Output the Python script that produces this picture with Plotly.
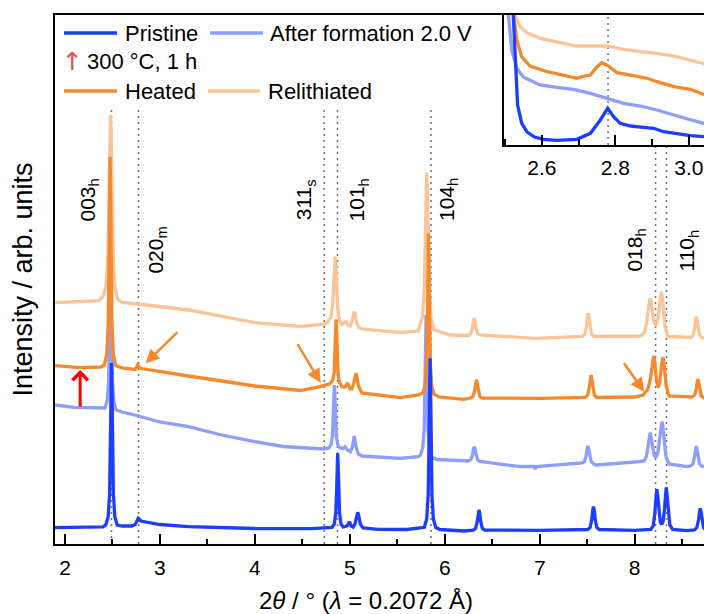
import plotly.graph_objects as go

FONT = "Arial, 'Liberation Sans', sans-serif"

# ---------------- main pattern data (2theta in deg, intensity in arb. units incl. offsets) -------------
pristine_x = [1.895, 2.20, 2.40, 2.43, 2.455, 2.47, 2.479, 2.485, 2.49, 2.495, 2.501, 2.51, 2.525, 2.55,
              2.60, 2.70, 2.74, 2.772, 2.80, 2.85, 2.90, 3.00, 3.30, 4.00, 4.60, 4.812, 4.837, 4.852, 4.861,
              4.867, 4.872, 4.877, 4.883, 4.892, 4.907, 4.93, 4.955, 4.975, 4.987, 4.995, 5.003, 5.015, 5.035,
              5.055, 5.068, 5.076, 5.083, 5.09, 5.098, 5.112, 5.14, 5.30, 5.60, 5.785, 5.81, 5.825, 5.834,
              5.84, 5.845, 5.85, 5.856, 5.865, 5.88, 5.905, 5.95, 6.20, 6.30, 6.325, 6.342, 6.352, 6.36,
              6.368, 6.378, 6.395, 6.42, 7.00, 7.506, 7.531, 7.548, 7.558, 7.566, 7.574, 7.584, 7.601, 7.626,
              8.00, 8.17, 8.195, 8.214, 8.225, 8.234, 8.243, 8.254, 8.27, 8.285, 8.30, 8.314, 8.324, 8.332,
              8.34, 8.351, 8.37, 8.40, 8.55, 8.63, 8.655, 8.672, 8.682, 8.69, 8.698, 8.708, 8.725, 8.75]
pristine_y = [16.3, 16.8, 17.2, 19.1, 27.3, 50.2, 99.3, 156.5, 181, 156.5, 99.3, 50.2, 27.3, 19,
              18, 18, 19.5, 25.7, 23, 22, 21.5, 19.5, 17.3, 15.5, 15.4, 16.5, 20.2, 30.7, 53.2,
              79.5, 90.7, 79.5, 53.2, 30.7, 20.2, 17, 17.5, 18.5, 20.8, 22.3, 20.8, 18, 17,
              20, 26, 30, 31.7, 30, 26, 19.5, 16, 14.7, 14.5, 16.7, 25.2, 49, 100.4,
              160, 185.7, 160, 100.4, 49, 25, 16.5, 14.5, 13, 13.9, 15.8, 22.6, 30.9, 34,
              30.9, 22.6, 15.8, 13.9, 13.7, 14.5, 16.6, 24.4, 33.8, 37.3, 33.8, 24.4, 16.6, 14.5,
              13.7, 14.5, 18, 32, 48, 54.7, 48, 33, 22, 19.5, 23, 35, 50, 56.7,
              50, 35, 19, 14.5, 13.3, 14, 16.5, 24, 32.5, 35.7, 32.5, 24, 16.5, 14]

formation_x = [1.895, 2.10, 2.42, 2.445, 2.46, 2.469, 2.475, 2.48, 2.485, 2.491, 2.50, 2.515, 2.54, 2.60,
               2.775, 3.00, 3.30, 3.65, 4.00, 4.30, 4.48, 4.72, 4.777, 4.802, 4.817, 4.826, 4.832, 4.837,
               4.842, 4.848, 4.857, 4.872, 4.897, 4.93, 4.95, 4.975, 5.005, 5.025, 5.038, 5.046, 5.054, 5.067,
               5.09, 5.13, 5.53, 5.72, 5.743, 5.768, 5.783, 5.792, 5.798, 5.803, 5.808, 5.814, 5.823, 5.838,
               5.863, 5.92, 6.15, 6.25, 6.275, 6.292, 6.302, 6.31, 6.318, 6.328, 6.345, 6.37, 6.80, 6.94,
               6.952, 6.965, 7.20, 7.39, 7.447, 7.472, 7.489, 7.499, 7.507, 7.515, 7.525, 7.542, 7.567, 7.60,
               8.05, 8.10, 8.125, 8.143, 8.155, 8.163, 8.171, 8.183, 8.203, 8.225, 8.245, 8.265, 8.278, 8.287,
               8.296, 8.309, 8.33, 8.36, 8.55, 8.588, 8.613, 8.63, 8.64, 8.648, 8.656, 8.666, 8.683, 8.708,
               8.75]
formation_y = [139, 136.7, 136, 143, 162.5, 204, 253, 274, 253, 204, 162.5, 142, 134, 132,
               128, 122, 117.3, 109, 102.3, 97.5, 96.5, 95, 96.1, 99.3, 108.2, 127.3, 149.5, 159,
               149.5, 127.3, 108.2, 99.3, 96, 95.5, 97.3, 94, 92.3, 96, 104, 108, 104, 97,
               90, 88, 85.7, 87.3, 88.9, 96, 115.9, 158.5, 208, 229, 208, 158.5, 115, 94,
               87, 84.5, 83, 83, 84.3, 89.2, 95.1, 97.3, 95.1, 89.2, 84.2, 82.5, 77.3, 77.5,
               75, 77.5, 79, 80.7, 81, 82.6, 88.4, 95.4, 98, 95.4, 88.4, 82.5, 80, 79,
               82.3, 83, 88, 100, 108.5, 111.3, 108.5, 99, 89, 86.5, 92, 107, 118.5, 122.3,
               118.5, 104, 87, 80, 77.3, 78, 80, 87, 95, 98, 95, 87, 80, 77.8,
               77.3]

heated_x = [1.895, 2.16, 2.38, 2.415, 2.44, 2.455, 2.464, 2.47, 2.475, 2.48, 2.486, 2.495, 2.51, 2.535,
            2.60, 2.70, 2.74, 2.765, 2.79, 3.30, 4.00, 4.48, 4.686, 4.795, 4.82, 4.835, 4.844, 4.85, 4.855,
            4.86, 4.866, 4.875, 4.89, 4.915, 4.95, 4.978, 5.00, 5.02, 5.042, 5.056, 5.065, 5.074, 5.088,
            5.125, 5.53, 5.72, 5.768, 5.793, 5.808, 5.817, 5.823, 5.828, 5.833, 5.839, 5.848, 5.863, 5.888,
            5.94, 6.20, 6.273, 6.298, 6.315, 6.325, 6.333, 6.341, 6.351, 6.368, 6.393, 7.00, 7.48, 7.505,
            7.522, 7.532, 7.54, 7.548, 7.558, 7.575, 7.60, 8.00, 8.09, 8.14, 8.165, 8.182, 8.192, 8.20,
            8.208, 8.218, 8.232, 8.248, 8.264, 8.279, 8.289, 8.297, 8.305, 8.315, 8.332, 8.36, 8.606, 8.631,
            8.648, 8.658, 8.666, 8.674, 8.684, 8.701, 8.75]
heated_y = [178.3, 176.3, 177, 179.1, 189.6, 219, 282, 355.5, 387, 355.5, 282, 219, 189.6, 178.5,
            176, 175, 174.5, 179, 175.7, 168, 158, 153.5, 157.3, 160.5, 164, 171.3, 191.4, 214.7, 224.7,
            214.7, 191.4, 171.3, 162, 157.3, 157, 161, 155.5, 155, 161, 168, 170.7, 168, 159,
            151, 146.3, 149, 151, 158, 180.5, 229.3, 286.3, 310.7, 286.3, 229.3, 180.5, 157.8, 149.6,
            147, 144.7, 146, 147.7, 153.8, 161.2, 164, 161.2, 153.8, 147.7, 146, 145.7, 146.7, 148.8,
            156.4, 165.5, 169, 165.5, 156.4, 148.8, 146.5, 147, 149, 155, 165, 178, 185, 188,
            185, 176, 162, 156.5, 162, 176, 184, 186.7, 184, 175, 158, 148, 147, 149,
            154.5, 162, 164.7, 162, 154.5, 148, 145]

relith_x = [1.895, 2.36, 2.405, 2.435, 2.453, 2.465, 2.473, 2.48, 2.487, 2.495, 2.507, 2.525, 2.555, 2.60,
            2.77, 3.30, 4.00, 4.48, 4.74, 4.77, 4.80, 4.818, 4.83, 4.838, 4.845, 4.852, 4.86, 4.872, 4.89,
            4.915, 4.945, 4.96, 4.985, 5.005, 5.025, 5.039, 5.047, 5.055, 5.07, 5.095, 5.125, 5.53, 5.72,
            5.735, 5.765, 5.783, 5.795, 5.803, 5.81, 5.817, 5.825, 5.837, 5.855, 5.885, 6.055, 6.25, 6.275,
            6.292, 6.302, 6.31, 6.318, 6.328, 6.345, 6.37, 6.95, 7.40, 7.45, 7.475, 7.492, 7.502, 7.51,
            7.518, 7.528, 7.545, 7.57, 8.06, 8.10, 8.125, 8.143, 8.155, 8.163, 8.171, 8.183, 8.203, 8.226,
            8.247, 8.263, 8.273, 8.28, 8.288, 8.30, 8.32, 8.35, 8.59, 8.615, 8.632, 8.642, 8.65, 8.658,
            8.668, 8.685, 8.71, 8.75]
relith_y = [241.3, 243.3, 248.6, 259.8, 289.8, 345.9, 407.6, 429, 407.6, 345.9, 289.8, 258, 245, 241.5,
            240, 234, 221.3, 217.5, 220, 222.5, 226.5, 237.5, 257, 279, 287.3, 279, 257, 236, 224,
            219.5, 221.5, 222.3, 218.5, 218, 223, 230, 232.3, 230, 222, 216.5, 215, 211.3, 213,
            217.7, 227, 252.5, 300, 352, 371.3, 352, 300, 252.5, 226, 214.5, 209, 208.5, 210.6,
            216.2, 223.1, 225.7, 223.1, 216.2, 210.6, 209, 205.7, 207.3, 207.7, 209.8, 217.7, 227.1, 230.7,
            227.1, 217.7, 209.8, 207.5, 208, 211, 220, 234, 243, 245.7, 243, 234, 222, 218,
            226, 240, 249.5, 252.3, 249.5, 236, 217, 207.5, 206.5, 208.5, 215.6, 224, 227.3, 224,
            215.6, 208.5, 206, 205.7]

# ---------------- inset data (zoom on 020m region, own offsets) ----------------
in_pristine_x = [2.50, 2.515, 2.521, 2.527, 2.534, 2.545, 2.56, 2.58, 2.604, 2.641, 2.695, 2.732, 2.759,
                 2.779, 2.795, 2.813, 2.841, 2.877, 2.904, 2.931, 2.968, 3.004, 3.045]
in_pristine_y = [300, 180, 130, 78, 40, 22, 13, 8, 5.7, 4.7, 5.7, 11.7, 25,
                 36.7, 28.3, 21.7, 19, 17.7, 16.7, 13.3, 11, 9.3, 8.3]
in_formation_x = [2.50, 2.509, 2.518, 2.532, 2.55, 2.595, 2.641, 2.686, 2.732, 2.777, 2.822, 2.868, 2.913,
                  2.959, 3.004, 3.045]
in_formation_y = [250, 130, 95, 76.7, 67.7, 60, 57.7, 55.7, 51.7, 46.7, 41.7, 39, 35, 30, 25, 21]
in_heated_x = [2.50, 2.515, 2.523, 2.532, 2.545, 2.568, 2.614, 2.668, 2.695, 2.709, 2.732, 2.75, 2.763,
               2.781, 2.804, 2.841, 2.886, 2.913, 2.959, 3.004, 3.045]
in_heated_y = [300, 180, 130, 105, 88.3, 79, 73.3, 69, 66.7, 68.3, 70, 78.3, 82.3,
               79, 72.3, 70, 66.7, 63.3, 58.3, 55.7, 50]
in_relith_x = [2.50, 2.52, 2.527, 2.541, 2.559, 2.595, 2.641, 2.695, 2.777, 2.822, 2.868, 2.913, 2.959,
               3.004, 3.045]
in_relith_y = [300, 170, 130, 118.3, 112.3, 106.7, 103.3, 99, 99, 95.7, 93.3, 91.7, 89, 85, 81]

# ---------------- reflections ----------------
refl_pos = [2.49, 2.775, 4.73, 4.87, 5.855, 8.22, 8.335]
refl_labels = ["003<sub>h</sub>", "020<sub>m</sub>", "311<sub>s</sub>", "101<sub>h</sub>",
               "104<sub>h</sub>", "018<sub>h</sub>", "110<sub>h</sub>"]
inset_refl = [2.78]

colors = {"Pristine": "#1f3dff", "After formation 2.0 V": "#8e9eff",
          "Heated": "#f5892c", "Relithiated": "#fbc498"}

# ---------------- figure ----------------
W, H = 704, 614
ML, MR, MT, MB = 55, 0, 15, 70
PW, PH = W - ML - MR, H - MT - MB


def px(xp):
    return (xp - ML) / PW


def py(yp):
    return (H - MB - yp) / PH


fig = go.Figure()

main = [("Relithiated", relith_x, relith_y), ("After formation 2.0 V", formation_x, formation_y),
        ("Heated", heated_x, heated_y), ("Pristine", pristine_x, pristine_y)]
for name, xs, ys in main:
    fig.add_trace(go.Scatter(x=xs, y=ys, mode="lines", name=name, showlegend=False,
                             line=dict(color=colors[name], width=3.3), xaxis="x", yaxis="y"))

inset = [("Relithiated", in_relith_x, in_relith_y), ("After formation 2.0 V", in_formation_x, in_formation_y),
         ("Heated", in_heated_x, in_heated_y), ("Pristine", in_pristine_x, in_pristine_y)]
for name, xs, ys in inset:
    fig.add_trace(go.Scatter(x=xs, y=ys, mode="lines", name=name, showlegend=False,
                             line=dict(color=colors[name], width=3.3), xaxis="x2", yaxis="y2"))

shapes = []
INSET_LEFT_X = 1.895 + (504 - ML) / PW * (8.73 - 1.895)
for xv in refl_pos:
    top = 399 if xv > INSET_LEFT_X else 434
    shapes.append(dict(type="line", xref="x", yref="y", x0=xv, x1=xv, y0=0, y1=top, layer="below",
                       line=dict(color="#707070", width=1.5, dash="2px,4px")))
for xv in inset_refl:
    shapes.append(dict(type="line", xref="x2", yref="y2", x0=xv, x1=xv, y0=0, y1=130, layer="below",
                       line=dict(color="#707070", width=1.5, dash="2px,4px")))

# custom legend
leg_rows = [("Pristine", 64, 117, 123, 33), ("After formation 2.0 V", 210, 263, 268, 33),
            ("Heated", 64, 117, 123, 91), ("Relithiated", 208, 260, 266, 91)]
annotations = []
for name, x0, x1, xt, yc in leg_rows:
    shapes.append(dict(type="line", xref="paper", yref="paper", x0=px(x0), x1=px(x1), y0=py(yc), y1=py(yc),
                       line=dict(color=colors[name], width=3.3)))
    annotations.append(dict(xref="paper", yref="paper", x=px(xt), y=py(yc), text=name, showarrow=False,
                            xanchor="left", yanchor="middle", font=dict(size=22, color="black", family=FONT)))
annotations.append(dict(xref="paper", yref="paper", x=px(72), y=py(62), text="↑", showarrow=False,
                        xanchor="center", yanchor="middle",
                        font=dict(size=25, color="#ff4545", family="DejaVu Sans")))
annotations.append(dict(xref="paper", yref="paper", x=px(85), y=py(62), text="300 °C, 1 h", showarrow=False,
                        xanchor="left", yanchor="middle", font=dict(size=22, color="black", family=FONT)))

# reflection labels
label_shift = [-23, 18, -19, 21, 17, -20, 22]
label_y = [344, 294, 344, 344, 344, 294, 294]
for xv, t, sh, yv in zip(refl_pos, refl_labels, label_shift, label_y):
    annotations.append(dict(x=xv, y=yv, xref="x", yref="y", text=t, textangle=-90, showarrow=False,
                            xshift=sh, xanchor="center", yanchor="middle",
                            font=dict(size=21, color="black", family=FONT)))

# arrows
orange_arrows = [((3.20, 213.3), (2.849, 180.7)), ((4.44, 201.3), (4.693, 161.3)), ((7.876, 182.3), (8.10, 152.3))]
for (tx, ty), (hx, hy) in orange_arrows:
    annotations.append(dict(x=hx, y=hy, ax=tx, ay=ty, xref="x", yref="y", axref="x", ayref="y", text="",
                            showarrow=True, arrowhead=2, arrowsize=1.1, arrowwidth=2.5,
                            arrowcolor=colors["Heated"], standoff=0, startstandoff=0))
annotations.append(dict(x=2.16, y=174, ax=2.16, ay=136, xref="x", yref="y", axref="x", ayref="y", text="",
                        showarrow=True, arrowhead=4, arrowsize=1, arrowwidth=3, arrowcolor="#ff0000",
                        standoff=0))

# axis titles
annotations.append(dict(xref="paper", yref="paper", x=px(22), y=0.5, text="Intensity / arb. units",
                        textangle=-90, showarrow=False, xanchor="center", yanchor="middle",
                        font=dict(size=27, color="black", family=FONT)))
annotations.append(dict(xref="paper", yref="paper", x=px(366), y=py(600),
                        text="2<i>θ</i> / ° (<i>λ</i> = 0.2072 Å)", showarrow=False,
                        xanchor="center", yanchor="middle", font=dict(size=24, color="black", family=FONT)))

fig.update_layout(
    width=W, height=H, margin=dict(l=ML, r=MR, t=MT, b=MB, pad=0),
    paper_bgcolor="white", plot_bgcolor="white", showlegend=False,
    font=dict(family=FONT, color="black"),
    shapes=shapes, annotations=annotations,
    xaxis=dict(domain=[0, 1], range=[1.895, 8.73], showgrid=False, zeroline=False,
               showline=True, linecolor="black", linewidth=2, mirror=True,
               ticks="inside", ticklen=10, tickwidth=2, tickcolor="black",
               tick0=2, dtick=1, tickfont=dict(size=21, family=FONT, color="black"),
               ticklabelstandoff=4,
               minor=dict(ticks="inside", dtick=0.5, tick0=2, ticklen=5, tickwidth=2, tickcolor="black",
                          showgrid=False)),
    yaxis=dict(domain=[0, 1], range=[0, 529], showgrid=False, zeroline=False, showline=True,
               linecolor="black", linewidth=2, mirror=False, ticks="", showticklabels=False),
    xaxis2=dict(domain=[px(504), 1], range=[2.497, 3.041], anchor="y2", showgrid=False, zeroline=False,
                showline=True, linecolor="black", linewidth=2, mirror=True,
                ticks="inside", ticklen=10, tickwidth=2, tickcolor="black",
                tick0=2.6, dtick=0.2, tickformat=".1f", tickfont=dict(size=21, family=FONT, color="black"),
                ticklabelstandoff=3,
                minor=dict(ticks="inside", dtick=0.1, tick0=2.6, ticklen=6, tickwidth=2, tickcolor="black",
                           showgrid=False)),
    yaxis2=dict(domain=[py(145), 1], range=[0, 130], anchor="x2", showgrid=False, zeroline=False,
                showline=True, linecolor="black", linewidth=2, ticks="", showticklabels=False),
)

fig.write_html("out.html")
